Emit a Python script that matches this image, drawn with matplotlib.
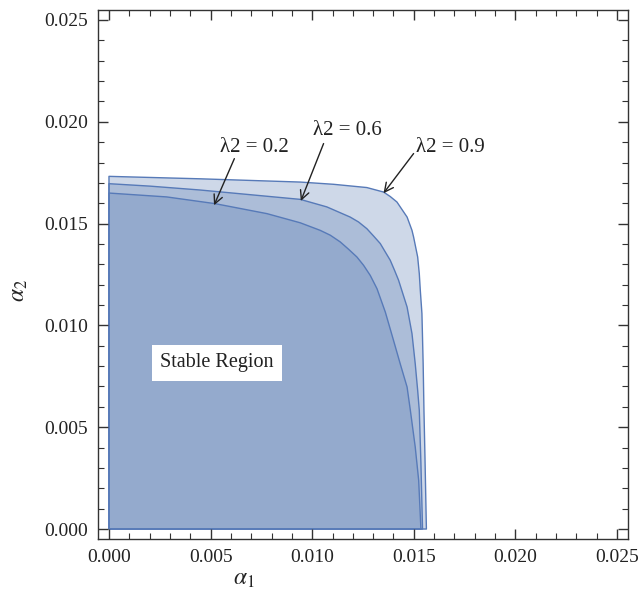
import matplotlib
matplotlib.use("Agg")
import matplotlib.pyplot as plt
from matplotlib.ticker import MultipleLocator, FormatStrFormatter

plt.rcParams["font.family"] = ["Liberation Serif", "DejaVu Serif"]
plt.rcParams["mathtext.fontset"] = "stix"

# boundary of each stable region (from top-left corner round to the x axis)
x_09 = [0.0, 0.00448, 0.00941, 0.01105, 0.01269, 0.01351, 0.01384, 0.01417, 0.01467, 0.01491,
        0.01499, 0.01519, 0.01527, 0.01532, 0.0154, 0.01546, 0.0155, 0.01555, 0.01562]
y_09 = [0.01732, 0.0172, 0.01704, 0.01693, 0.01677, 0.01655, 0.01633, 0.01606, 0.01532, 0.01467,
        0.01434, 0.01336, 0.01254, 0.01172, 0.01058, 0.00812, 0.0058, 0.0035, 0.0]

x_06 = [0.0, 0.00202, 0.00448, 0.00941, 0.01072, 0.01187, 0.01228, 0.01269, 0.01302, 0.01335,
        0.0136, 0.01384, 0.01405, 0.01425, 0.01467, 0.01491, 0.01507, 0.01519, 0.01527,
        0.01535, 0.01543]
y_06 = [0.01696, 0.01684, 0.01665, 0.01619, 0.01582, 0.01532, 0.01508, 0.01475, 0.01439, 0.01402,
        0.0136, 0.0132, 0.01271, 0.01222, 0.0109, 0.0096, 0.00812, 0.00681, 0.00583,
        0.00323, 0.0]

x_02 = [0.0, 0.00284, 0.00522, 0.00777, 0.00941, 0.01039, 0.01089, 0.01138, 0.01179, 0.0122,
        0.01253, 0.01286, 0.01319, 0.0136, 0.014, 0.01433, 0.01467, 0.01483, 0.01507,
        0.01524, 0.01535]
y_02 = [0.0165, 0.01631, 0.01598, 0.01549, 0.01504, 0.01467, 0.01443, 0.0141, 0.01374, 0.01336,
        0.01295, 0.01245, 0.0118, 0.01065, 0.00927, 0.00812, 0.00697, 0.00583, 0.00403,
        0.00239, 0.0]

regions = [("λ2 = 0.9", x_09, y_09), ("λ2 = 0.6", x_06, y_06), ("λ2 = 0.2", x_02, y_02)]

# label text position, arrow tail, arrow head (data coords)
labels = {
    "λ2 = 0.2": ((0.00714, 0.01874), (0.00617, 0.01819), (0.00517, 0.01590)),
    "λ2 = 0.6": ((0.01172, 0.01958), (0.01056, 0.01893), (0.00944, 0.01611)),
    "λ2 = 0.9": ((0.01680, 0.01872), (0.01499, 0.01844), (0.01351, 0.01649)),
}

base = (0.368417, 0.506779, 0.709798)
edge = (0.34, 0.48, 0.72)

fig = plt.figure(figsize=(6.38, 5.99), dpi=100)
ax = fig.add_axes([98 / 638, 60 / 599, 530 / 638, 529 / 599])

for name, xs, ys in regions:
    ax.fill([0.0] + xs, [0.0] + ys, facecolor=(*base, 0.3), edgecolor=edge, lw=1.0,
            joinstyle="round")

for name, (txt, tail, head) in labels.items():
    ax.text(*txt, name, ha="center", va="center", fontsize=15, color="#222222")
    ax.annotate("", xy=head, xytext=tail,
                arrowprops=dict(arrowstyle="->", color="#222222", lw=1.0,
                                mutation_scale=16, shrinkA=0, shrinkB=0))

ax.text(0.00532, 0.00816, "Stable Region", ha="center", va="center", fontsize=14.5,
        color="#222222", bbox=dict(facecolor="white", edgecolor="none", pad=6))

ax.set_xlim(-0.00054, 0.02554)
ax.set_ylim(-0.00049, 0.02549)
for a in (ax.xaxis, ax.yaxis):
    a.set_major_locator(MultipleLocator(0.005))
    a.set_minor_locator(MultipleLocator(0.001))
    a.set_major_formatter(FormatStrFormatter("%.3f"))
ax.tick_params(which="both", direction="in", top=True, right=True, colors="#333333",
               labelcolor="#222222", labelsize=14)
ax.tick_params(which="major", length=7, width=1, pad=7)
ax.tick_params(which="minor", length=4, width=0.8)
for s in ax.spines.values():
    s.set_color("#333333")
    s.set_linewidth(1.0)

ax.text(0.2755, -0.0775, r"$\alpha_1$", transform=ax.transAxes, ha="center", va="center",
        fontsize=17, color="#222222")
ax.text(-0.149, 0.47, r"$\alpha_2$", transform=ax.transAxes, ha="center", va="center",
        rotation=90, fontsize=17, color="#222222")

fig.savefig("out.png", dpi=100)
